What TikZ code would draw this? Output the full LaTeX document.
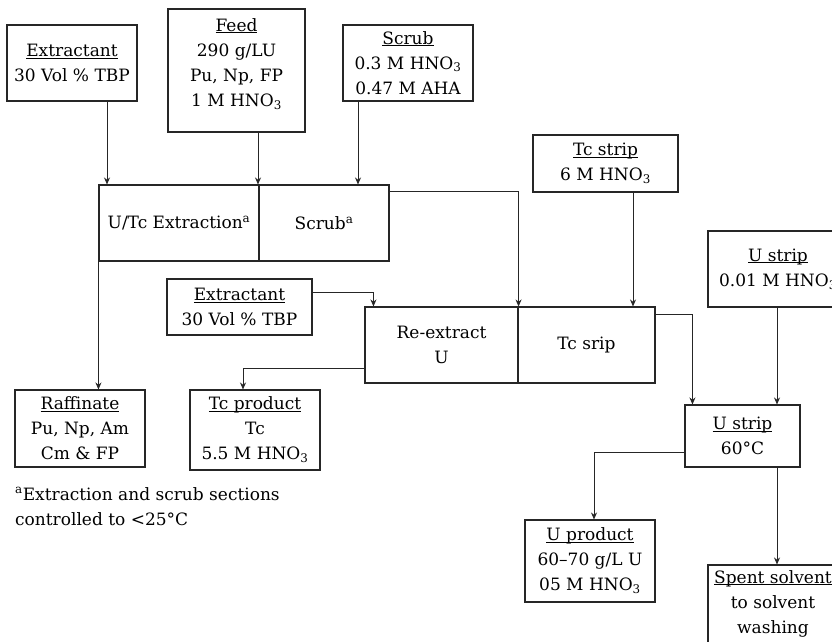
\documentclass[tikz,border=0pt]{standalone}
\usepackage{fontspec}
\setmainfont{DejaVu Serif}
\usetikzlibrary{arrows.meta}
\newcommand\hd[1]{\underline{\smash{#1}}\vphantom{Ag}}
\newcommand\sbt{\textsubscript{3}}
\newcommand\lift{\rule[-16pt]{0pt}{0pt}}
\begin{document}
\begin{tikzpicture}[x=1pt,y=-1pt,
  ln/.style={draw=black!85},
  box/.style={ln, line width=1.1pt, inner sep=1pt, align=center,
    font=\fontsize{17}{25}\selectfont},
  arr/.style={ln, line width=0.9pt, -{Stealth[length=7pt,width=6pt]}}]
\useasboundingbox (0,0) rectangle (832,641);
\fill[white] (0,0) rectangle (832,641);
\clip (0,0) rectangle (832,641);
% boxes
\node[box, minimum width=130pt, minimum height=76pt] (ext1) at (72,63) {\hd{Extractant}\\30 Vol \% TBP};
\node[box, minimum width=137pt, minimum height=123pt] (feed) at (236.5,70.5) {\hd{Feed}\\290 g/LU\\Pu, Np, FP\\1 M HNO\sbt\lift};
\node[box, minimum width=130pt, minimum height=76pt] (scrub) at (408,63) {\hd{Scrub}\\0.3 M HNO\sbt\\0.47 M AHA};
\node[box, minimum width=160pt, minimum height=76pt] (extr) at (179,223) {U/Tc Extraction\textsuperscript{a}};
\node[box, minimum width=130pt, minimum height=76pt] (scrubsec) at (324,223) {Scrub\textsuperscript{a}};
\node[box, minimum width=145pt, minimum height=57pt] (tcstrip) at (605.5,163.5) {\hd{Tc strip}\\6 M HNO\sbt};
\node[box, minimum width=140pt, minimum height=76pt] (ustripfeed) at (778,269) {\hd{U strip}\\0.01 M HNO\sbt};
\node[box, minimum width=145pt, minimum height=56pt] (ext2) at (239.5,307) {\hd{Extractant}\\30 Vol \% TBP};
\node[box, minimum width=153pt, minimum height=76pt] (reext) at (441.5,345) {Re-extract\\U};
\node[box, minimum width=137pt, minimum height=76pt] (tcsrip) at (586.5,345) {Tc srip};
\node[box, minimum width=130pt, minimum height=77pt] (raff) at (80,428.5) {\hd{Raffinate}\\Pu, Np, Am\\Cm \& FP};
\node[box, minimum width=130pt, minimum height=80pt] (tcprod) at (255,430) {\hd{Tc product}\\Tc\\5.5 M HNO\sbt};
\node[box, minimum width=115pt, minimum height=62pt] (ustrip) at (742.5,436) {\hd{U strip}\\60°C};
\node[box, minimum width=130pt, minimum height=82pt] (uprod) at (590,561) {\hd{U product}\\60--70 g/L U\\05 M HNO\sbt};
\node[box, minimum width=130pt, minimum height=90pt] (spent) at (773,610) {\hd{Spent solvent}\\to solvent\\washing\lift};
\node[align=left, anchor=north west, inner sep=0pt, font=\fontsize{17}{25}\selectfont] (note) at (15,487)
  {\textsuperscript{a}Extraction and scrub sections\\controlled to <25°C};
% connectors
\draw[arr] ([xshift=35pt]ext1.south) -- ([xshift=35pt]ext1.south |- extr.north);
\draw[arr] ([xshift=21.5pt]feed.south) -- ([xshift=21.5pt]feed.south |- extr.north);
\draw[arr] ([xshift=-50pt]scrub.south) -- ([xshift=-50pt]scrub.south |- scrubsec.north);
\draw[arr] (extr.south west) -- (extr.south west |- raff.north);
\draw[arr] ([yshift=-7pt]scrubsec.north east) -| (reext.north east);
\draw[arr] ([xshift=27.5pt]tcstrip.south) -- ([xshift=27.5pt]tcstrip.south |- tcsrip.north);
\draw[arr] ([yshift=15pt]ext2.east) -| ([xshift=9pt]reext.north west);
\draw[arr] ([yshift=-23pt]reext.west) -| ([xshift=-12pt]tcprod.north);
\draw[arr] ([yshift=-8pt]tcsrip.north east) -| ([xshift=8pt]ustrip.north west);
\draw[arr] ([xshift=-1pt]ustripfeed.south) -- ([xshift=-1pt]ustripfeed.south |- ustrip.north);
\draw[arr] ([yshift=-16pt]ustrip.west) -| ([xshift=4pt]uprod.north);
\draw[arr] ([xshift=34.5pt]ustrip.south) -- ([xshift=34.5pt]ustrip.south |- spent.north);
\end{tikzpicture}
\end{document}
